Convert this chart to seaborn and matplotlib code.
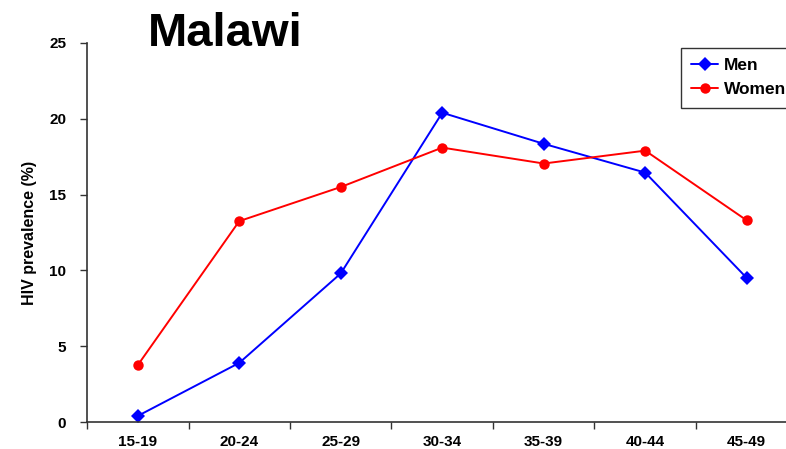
import pandas as pd
import matplotlib
matplotlib.use("Agg")
import matplotlib.pyplot as plt
import seaborn as sns

age_groups = ["15-19", "20-24", "25-29", "30-34", "35-39", "40-44", "45-49"]
men = [0.4, 3.9, 9.8, 20.4, 18.35, 16.45, 9.5]
women = [3.75, 13.25, 15.5, 18.1, 17.05, 17.9, 13.3]

df = pd.DataFrame({
    "age": age_groups * 2,
    "prevalence": men + women,
    "sex": ["Men"] * len(men) + ["Women"] * len(women),
})

sns.set_style("white")
plt.rcParams["font.family"] = ["Liberation Sans", "DejaVu Sans"]
plt.rcParams["font.weight"] = "bold"
plt.rcParams["text.color"] = "black"
plt.rcParams["axes.labelcolor"] = "black"

fig = plt.figure(figsize=(7.86, 4.49), dpi=100)
ax = fig.add_axes([87 / 786, 27 / 449, 710.5 / 786, 379 / 449])

sns.lineplot(
    data=df, x="age", y="prevalence", hue="sex", style="sex",
    palette={"Men": "#0000ff", "Women": "#ff0000"},
    markers={"Men": "D", "Women": "o"}, dashes=False,
    markersize=7.5, markeredgewidth=0, linewidth=1.4, sort=False, ax=ax,
)

ax.set_xlim(-0.5, len(age_groups) - 0.5)
ax.set_ylim(0, 25)
ax.set_yticks([0, 5, 10, 15, 20, 25])
ax.set_xticks(range(len(age_groups)))
ax.set_xticklabels(age_groups)
ax.set_xticks([i - 0.5 for i in range(len(age_groups) + 1)], minor=True)
ax.tick_params(axis="x", which="major", length=0, pad=9, labelsize=11, labelcolor="black")
ax.tick_params(axis="x", which="minor", length=5, width=1, color="#333333", bottom=True)
ax.tick_params(axis="y", length=5, width=1, color="#333333", left=True, pad=10,
               labelsize=11, labelcolor="black")
for lbl in ax.get_xticklabels() + ax.get_yticklabels():
    lbl.set_fontweight("bold")

ax.set_xlabel("")
ax.set_ylabel("HIV prevalence (%)", fontsize=11.5, fontweight="bold", labelpad=9)

for s in ["top", "right"]:
    ax.spines[s].set_visible(False)
for s in ["left", "bottom"]:
    ax.spines[s].set_color("#333333")
    ax.spines[s].set_linewidth(1.2)

fig.text(225 / 786, 1 - 34 / 449, "Malawi", fontsize=34, fontweight="bold",
         ha="center", va="center")

leg = ax.legend(
    title=None, loc="upper left", bbox_to_anchor=(672 / 786, 1 - 39 / 449),
    bbox_transform=fig.transFigure, frameon=True, fancybox=False,
    edgecolor="black", prop={"weight": "bold", "size": 12.5},
    handlelength=1.55, borderpad=0.6, labelspacing=0.5, handletextpad=0.35,
)
leg.get_frame().set_linewidth(1.0)

fig.savefig("out.png", dpi=100)
